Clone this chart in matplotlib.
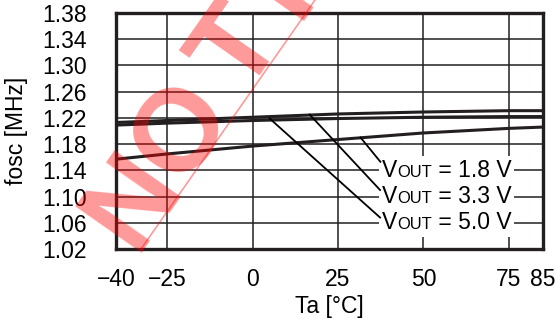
import numpy as np
import matplotlib
matplotlib.use('Agg')
import matplotlib.pyplot as plt
from matplotlib.offsetbox import TextArea, HPacker, AnnotationBbox

plt.rcParams['font.family'] = ['Liberation Sans', 'DejaVu Sans']

# Ta [degC]
ta = [-40, -25, 0, 25, 50, 75, 85]
# fosc [MHz] per VOUT
f_18 = [1.157, 1.165, 1.177, 1.187, 1.197, 1.204, 1.206]
f_33 = [1.213, 1.216, 1.221, 1.226, 1.229, 1.231, 1.231]
f_50 = [1.209, 1.212, 1.216, 1.219, 1.221, 1.222, 1.222]

labels = ['1.8', '3.3', '5.0']
xticks = [-40, -25, 0, 25, 50, 75, 85]
yticks = [1.02, 1.06, 1.10, 1.14, 1.18, 1.22, 1.26, 1.30, 1.34, 1.38]

ink = '#231f20'
fs = 16.5

W, H = 557, 326
fig = plt.figure(figsize=(W / 100, H / 100), dpi=100)
ax = fig.add_axes([116 / W, 1 - 249 / H, 427 / W, 236 / H])

for f in (f_18, f_33, f_50):
    ax.plot(ta, f, color=ink, lw=2.2, zorder=3)

ax.set_xlim(-40, 85)
ax.set_ylim(1.02, 1.38)
ax.set_xticks(xticks)
ax.set_yticks(yticks)
ax.set_yticklabels([f'{v:.2f}' for v in yticks])
ax.grid(True, color=ink, lw=1.1)
ax.set_axisbelow(True)
for s in ax.spines.values():
    s.set_linewidth(2.4)
    s.set_color(ink)
ax.tick_params(length=0, labelsize=fs, colors='black')
ax.tick_params(axis='y', pad=21)
ax.tick_params(axis='x', pad=14)

ax.set_xlabel('Ta [°C]', fontsize=fs)
ax.set_ylabel('fosc [MHz]', fontsize=fs)
ax.xaxis.set_label_coords(0.5, -0.195)
ax.yaxis.set_label_coords(-0.205, 0.5)

# labels with leaders
label_y = [1.14, 1.10, 1.06]
leader_from = [(31.6, 1.190), (16.7, 1.225), (5.0, 1.219)]
leader_to = [(37.4, 1.153), (37.3, 1.110), (37.3, 1.068)]
for lab, ly, p0, p1 in zip(labels, label_y, leader_from, leader_to):
    ax.plot([p0[0], p1[0]], [p0[1], p1[1]], color='black', lw=1.3, zorder=5)
    pack = HPacker(children=[
        TextArea('V', textprops=dict(fontsize=fs)),
        TextArea('OUT', textprops=dict(fontsize=fs * 0.72)),
        TextArea(f' = {lab} V', textprops=dict(fontsize=fs)),
    ], sep=0, pad=0, align='baseline')
    ab = AnnotationBbox(pack, (37.8, ly), xycoords='data', box_alignment=(0, 0.5),
                        frameon=True, pad=0.2,
                        bboxprops=dict(fc='white', ec='none'), zorder=4)
    ax.add_artist(ab)

# watermark, letters spaced along a slanted baseline (pixel coords from top-left)
u = np.array([0.573, -0.820])
n = np.array([-0.820, -0.573])
b0 = np.array([141, 249]) + 3 * n
for ch, d in zip('NOTRE', [35, 120, 220, 318, 410]):
    px, py = b0 + d * u
    fig.text(px / W, 1 - py / H, ch, fontsize=84, fontweight='bold', color='red',
             alpha=0.4, rotation=55, rotation_mode='anchor',
             ha='center', va='baseline', zorder=10)
fig.add_artist(plt.Line2D([141 / W, 315 / W], [1 - 249 / H, 1.0],
                          transform=fig.transFigure, color='red', alpha=0.4, lw=1.2, zorder=10))

fig.savefig('out.png', dpi=100)
